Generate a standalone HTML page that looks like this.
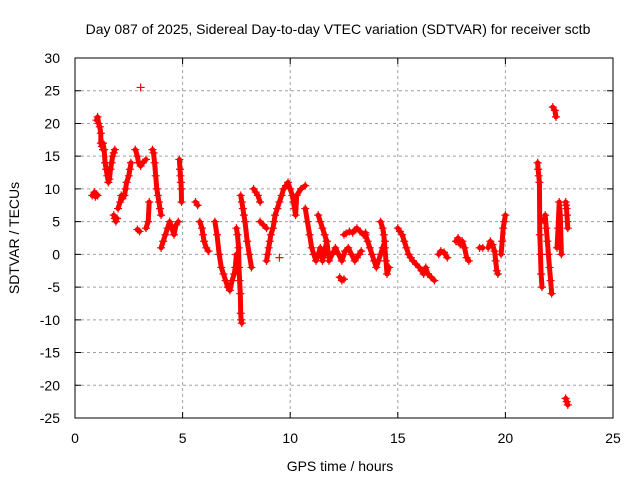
<!DOCTYPE html>
<html><head><meta charset="utf-8"><style>
body{margin:0;background:#fff}
svg{display:block;font-family:"Liberation Sans",sans-serif}
</style></head><body>
<svg id="chart" width="640" height="480" viewBox="0 0 640 480">
<rect width="640" height="480" fill="#fff"/>
<text x="338" y="34" font-size="14" text-anchor="middle">Day 087 of 2025, Sidereal Day-to-day VTEC variation (SDTVAR) for receiver sctb</text>
<g id="grid"></g>
<g id="axes"></g>
<g id="series"></g>
<rect x="75" y="58" width="538" height="360" fill="none" stroke="#000" stroke-width="1"/>
<text x="340" y="471" font-size="14" text-anchor="middle">GPS time / hours</text>
<text x="19" y="238" font-size="14" text-anchor="middle" transform="rotate(-90 19 238)">SDTVAR / TECUs</text>
</svg>
<script>
const xTicks=[0,5,10,15,20,25];
const yTicks=[30,25,20,15,10,5,0,-5,-10,-15,-20,-25];
const segIds=[];
const times=[];
const values=[];
const segs=[
[[0.8,9],[0.9,9.5],[0.95,8.8],[1.0,9.2],[1.05,9]],
[[1.0,20.5],[1.05,21],[1.1,20],[1.15,19.5],[1.2,18.5],[1.2,17],[1.25,16.5],[1.3,17],[1.3,16]],
[[1.3,17],[1.35,16],[1.4,14],[1.45,13],[1.5,12],[1.55,11],[1.6,11.5],[1.65,13],[1.7,14],[1.75,15],[1.8,15.5],[1.85,16]],
[[1.8,6],[1.85,5.5],[1.9,5],[1.95,5.5]],
[[2.0,7],[2.1,8],[2.15,9],[2.2,8.5],[2.3,9],[2.35,10],[2.4,11],[2.5,12],[2.55,13],[2.6,14]],
[[2.8,16],[2.9,15],[2.95,14],[3.05,13.5],[3.15,14],[3.3,14.5]],
[[2.9,3.8],[3.0,3.5]],
[[3.05,25.5]],
[[3.3,4],[3.4,5],[3.45,8]],
[[3.6,16],[3.65,15.5],[3.7,14],[3.75,12],[3.8,10],[3.85,9],[3.9,8],[3.95,7],[4.0,6]],
[[4.0,1],[4.1,2],[4.2,3],[4.3,4],[4.4,5],[4.5,4],[4.6,3],[4.7,4.5],[4.8,5]],
[[4.85,14.5],[4.88,13],[4.9,12],[4.92,11],[4.94,10],[4.95,8]],
[[5.6,8],[5.7,7.5]],
[[5.8,5],[5.9,4],[5.95,3],[6.0,2],[6.1,1],[6.2,0.5]],
[[6.5,5],[6.6,3],[6.7,0],[6.8,-2],[6.9,-3],[7.0,-4],[7.1,-5],[7.2,-5.5],[7.3,-4],[7.4,-3],[7.45,-2],[7.5,0]],
[[7.5,4],[7.55,3],[7.6,1],[7.62,-2],[7.65,-4],[7.68,-6],[7.7,-9],[7.72,-10],[7.75,-10.5]],
[[7.7,9],[7.75,8],[7.8,7],[7.85,6],[7.9,5],[8.0,2],[8.1,0],[8.2,-2]],
[[8.3,10],[8.4,9.5],[8.5,9],[8.6,8]],
[[8.6,5],[8.75,4.5],[8.9,4]],
[[8.9,-1],[8.95,0],[9.0,1],[9.05,2],[9.1,3],[9.2,4],[9.25,5],[9.3,6],[9.4,7]],
[[9.4,7],[9.5,8],[9.6,9],[9.7,10],[9.8,10.5],[9.9,11],[10.0,10],[10.1,9],[10.15,8],[10.2,7],[10.25,6],[10.3,9],[10.5,10],[10.7,10.5]],
[[9.5,-0.5]],
[[10.7,7],[10.8,5],[10.9,3],[11.0,1],[11.1,0],[11.2,-1],[11.3,0],[11.4,1],[11.5,-1],[11.6,0.5],[11.7,2],[11.8,-0.5]],
[[11.3,6],[11.4,5],[11.5,4],[11.6,3],[11.7,2]],
[[11.8,-1],[11.95,0],[12.1,1],[12.25,0],[12.4,-1],[12.55,0.5],[12.7,1],[12.85,0],[13.0,-1],[13.1,-0.5],[13.2,0],[13.3,0.5]],
[[12.3,-3.5],[12.4,-4],[12.5,-3.8]],
[[12.5,3],[12.6,3.2],[12.75,3.5],[12.9,3.3],[13.0,3.7],[13.1,4],[13.25,3.5],[13.4,3],[13.5,3.3]],
[[13.5,3],[13.6,2],[13.7,1],[13.8,0],[13.9,-1],[14.0,-2],[14.1,-1],[14.2,0],[14.3,1],[14.4,2]],
[[14.2,5],[14.3,4],[14.35,3],[14.4,1],[14.45,-1],[14.5,-3],[14.6,-2]],
[[15.0,4],[15.1,3.5],[15.2,3],[15.3,2],[15.4,1],[15.5,0],[15.6,-0.5],[15.7,-1],[15.85,-1.5],[16.0,-2]],
[[16.0,-2],[16.1,-2.5],[16.2,-3],[16.3,-2],[16.4,-3],[16.55,-3.5],[16.7,-4]],
[[16.9,0],[17.0,0.5],[17.15,0.3],[17.3,-0.5]],
[[17.7,2],[17.8,2.5],[17.9,1.5],[18.0,2],[18.1,1],[18.2,-0.5],[18.3,-1]],
[[18.8,1],[18.95,1]],
[[19.2,1],[19.3,2],[19.4,1.5],[19.5,0.5],[19.55,-1],[19.6,-2.5],[19.65,-3]],
[[19.8,0],[19.85,2],[19.9,4],[19.95,5],[20.0,6]],
[[21.5,14],[21.52,13],[21.55,12],[21.58,11],[21.6,3],[21.63,0],[21.66,-3],[21.7,-5]],
[[21.8,5],[21.85,6],[21.9,4],[21.95,2],[22.0,0],[22.05,-2],[22.1,-4],[22.15,-6]],
[[22.2,22.5],[22.3,22],[22.35,21]],
[[22.4,1],[22.45,4],[22.5,8],[22.55,6],[22.6,0]],
[[22.8,8],[22.82,7.5],[22.84,7],[22.86,6],[22.88,5],[22.9,4]],
[[22.8,-22],[22.85,-22.5],[22.9,-23]]
];
segs.forEach((s,i)=>s.forEach(p=>{segIds.push(i);times.push(p[0]);values.push(p[1]);}));
const X=t=>75+t*538/25, Y=v=>58+(30-v)*360/55;
const ns="http://www.w3.org/2000/svg";
const grid=document.getElementById('grid'),axes=document.getElementById('axes'),ser=document.getElementById('series');
function mk(tag,attrs,parent){const e=document.createElementNS(ns,tag);for(const k in attrs)e.setAttribute(k,attrs[k]);parent.appendChild(e);return e;}
xTicks.forEach(t=>{
 if(t>0&&t<25){const g=mk('line',{x1:X(t),x2:X(t),y1:58,y2:418,stroke:'#a0a0a0','stroke-dasharray':'3,3'},grid);}
 const tk=mk('path',{d:`M${X(t)},418v-6M${X(t)},58v6`,stroke:'#000'},axes);
 const l=mk('text',{x:X(t),y:443,'font-size':14,'text-anchor':'middle'},axes);l.textContent=t;
 
});
yTicks.forEach(v=>{
 if(v<30&&v>-25){const g=mk('line',{x1:75,x2:613,y1:Y(v),y2:Y(v),stroke:'#a0a0a0','stroke-dasharray':'3,3'},grid);}
 const tk=mk('path',{d:`M75,${Y(v)}h6M613,${Y(v)}h-6`,stroke:'#000'},axes);
 const l=mk('text',{x:60,y:Y(v)+5,'font-size':14,'text-anchor':'end'},axes);l.textContent=v;
 
});
// dense trace through consecutive points of the same segment
let d='';
for(let i=0;i<times.length;i++){
 const cmd=(i>0&&segIds[i]===segIds[i-1])?'L':'M';
 d+=cmd+X(times[i]).toFixed(1)+','+Y(values[i]).toFixed(1);
}
const tr=mk('path',{d:d,fill:'none',stroke:'#f00','stroke-width':5,'stroke-linejoin':'round','stroke-linecap':'round'},ser);


for(let i=0;i<times.length;i++){
 const x=X(times[i]),y=Y(values[i]);
 const m=mk('path',{d:`M${x-4},${y}h8M${x},${y-4}v8`,stroke:'#f00','stroke-width':1.2},ser);
 
 
}
</script>
</body></html>
